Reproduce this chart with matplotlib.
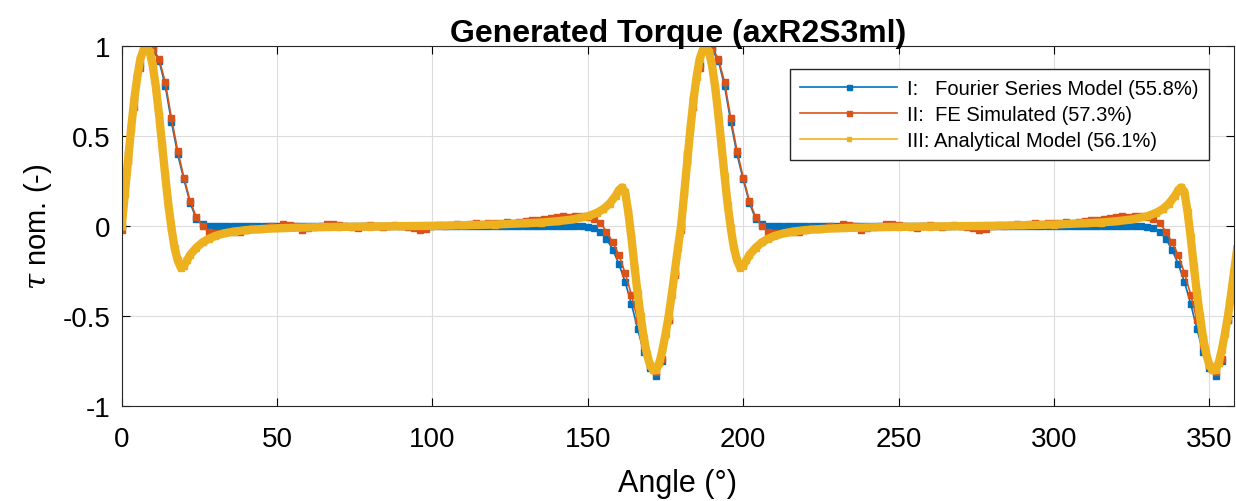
import numpy as np
import matplotlib.pyplot as plt

plt.rcParams['font.family'] = ['Liberation Sans', 'DejaVu Sans']
plt.rcParams['mathtext.fontset'] = 'dejavuserif'

# one electrical period (0..178 deg, step 2); second period repeats it
ang_period = np.arange(0, 180, 2)

fourier_period = [
    0.00, 0.40, 0.70, 0.90, 0.99, 0.98, 0.92, 0.78, 0.58, 0.40,   # 0-18
    0.26, 0.13, 0.04, 0.01, 0.00, 0.00, 0.00, 0.00, 0.00, 0.00,   # 20-38
    0.00, 0.00, 0.00, 0.00, 0.00, 0.00, 0.00, 0.00, 0.00, 0.00,   # 40-58
    0.00, 0.00, 0.00, 0.00, 0.00, 0.00, 0.00, 0.00, 0.00, 0.00,   # 60-78
    0.00, 0.00, 0.00, 0.00, 0.00, 0.00, 0.00, 0.00, 0.00, 0.00,   # 80-98
    0.00, 0.00, 0.00, 0.00, 0.00, 0.00, 0.00, 0.00, 0.00, 0.00,   # 100-118
    0.00, 0.00, 0.00, 0.00, 0.00, 0.00, 0.00, 0.00, 0.00, 0.00,   # 120-138
    0.00, 0.00, 0.00, 0.00, 0.00, -0.005, -0.01, -0.03, -0.07, -0.13,  # 140-158
    -0.21, -0.31, -0.43, -0.57, -0.70, -0.79, -0.83, -0.75, -0.52, -0.26,  # 160-178
]

fe_period = [
    -0.02, 0.36, 0.66, 0.88, 0.99, 0.99, 0.93, 0.80, 0.60, 0.42,  # 0-18
    0.27, 0.14, 0.05, 0.00, -0.03, -0.04, -0.04, -0.03, -0.035, -0.03,  # 20-38
    -0.02, -0.01, -0.015, -0.01, 0.00, -0.005, 0.01, 0.005, 0.00, -0.02,  # 40-58
    -0.01, -0.005, 0.00, 0.01, 0.01, 0.005, 0.00, -0.005, -0.01, 0.00,  # 60-78
    0.005, 0.00, -0.005, 0.00, 0.005, 0.00, -0.005, -0.01, -0.02, -0.015,  # 80-98
    0.00, 0.005, 0.00, 0.005, 0.01, 0.005, 0.01, 0.015, 0.01, 0.015,  # 100-118
    0.02, 0.02, 0.025, 0.02, 0.025, 0.03, 0.035, 0.035, 0.04, 0.045,  # 120-138
    0.05, 0.055, 0.05, 0.055, 0.055, 0.05, 0.04, 0.02, -0.03, -0.09,  # 140-158
    -0.16, -0.26, -0.38, -0.52, -0.66, -0.77, -0.81, -0.74, -0.52, -0.27,  # 160-178
]

ang_analytic_period = [
    0, 1, 2, 3, 4, 5, 6, 7, 8, 9, 10, 11, 12, 13, 14, 15, 16, 17, 18, 19,
    20, 21, 22, 24, 26, 28, 30, 33, 36, 40, 45, 50, 60, 70, 80, 90, 100,
    110, 120, 130, 135, 140, 145, 150, 153, 155, 157, 159, 160, 161, 162,
    163, 164, 165, 166, 167, 168, 169, 170, 171, 172, 173, 174, 175, 176,
    177, 178, 179,
]
analytic_period = [
    0.00, 0.18, 0.36, 0.54, 0.70, 0.83, 0.93, 0.98, 1.00, 0.97, 0.89, 0.77,
    0.62, 0.45, 0.28, 0.12, -0.01, -0.12, -0.19, -0.23, -0.22, -0.19, -0.16,
    -0.12, -0.09, -0.07, -0.055, -0.04, -0.03, -0.022, -0.016, -0.012,
    -0.007, -0.004, -0.002, 0.00, 0.002, 0.005, 0.009, 0.016, 0.02, 0.027,
    0.037, 0.055, 0.075, 0.095, 0.125, 0.17, 0.20, 0.215, 0.19, 0.08, -0.06,
    -0.22, -0.37, -0.50, -0.62, -0.71, -0.77, -0.80, -0.80, -0.76, -0.69,
    -0.60, -0.50, -0.38, -0.25, -0.12,
]

labels = ['I:   Fourier Series Model (55.8%)',
          'II:  FE Simulated (57.3%)',
          'III: Analytical Model (56.1%)']

# full 0-360 deg traces (two identical periods)
ang = np.concatenate([ang_period, ang_period + 180])
fourier = np.concatenate([fourier_period, fourier_period])
fe = np.concatenate([fe_period, fe_period])
ang_an = np.concatenate([ang_analytic_period, np.array(ang_analytic_period) + 180])
analytic = np.concatenate([analytic_period, analytic_period])

fig = plt.figure(figsize=(12.36, 5.02), dpi=100)
ax = fig.add_axes([0.0985, 0.189, 0.9, 0.717])

ax.plot(ang, fourier, '-s', color='#0072BD', lw=1.2, ms=4.5, label=labels[0])
ax.plot(ang, fe, '-s', color='#D95319', lw=1.2, ms=4.5, label=labels[1])
ax.plot(ang_an, analytic, '-s', color='#EDB120', lw=6, ms=4, label=labels[2])

ax.set_xlim(0, 358)
ax.set_ylim(-1, 1)
ax.set_xticks(np.arange(0, 351, 50))
ax.set_yticks([-1, -0.5, 0, 0.5, 1])
ax.set_yticklabels(['-1', '-0.5', '0', '0.5', '1'])
ax.grid(True, color='#dcdcdc', lw=0.8)
ax.tick_params(direction='in', top=True, right=True, labelsize=20, length=6, pad=8)
ax.tick_params(axis='x', pad=14)
for s in ax.spines.values():
    s.set_color('#262626')

ax.set_title('Generated Torque (axR2S3ml)', fontsize=23, fontweight='bold', pad=4)
ax.set_xlabel('Angle (°)', fontsize=22, labelpad=12)
ax.set_ylabel(r'$\tau$ nom. (-)', fontsize=21, labelpad=6)

leg = ax.legend(loc='upper right', bbox_to_anchor=(0.977, 0.936), fontsize=14.5,
                fancybox=False, framealpha=1, edgecolor='#262626',
                handlelength=4.8, markerscale=0.8, borderpad=0.5,
                labelspacing=0.35, handletextpad=0.5, borderaxespad=0)
leg.get_frame().set_linewidth(1.0)
for line in leg.get_lines():
    line.set_linewidth(1.2)

fig.savefig('out.png', dpi=100)
